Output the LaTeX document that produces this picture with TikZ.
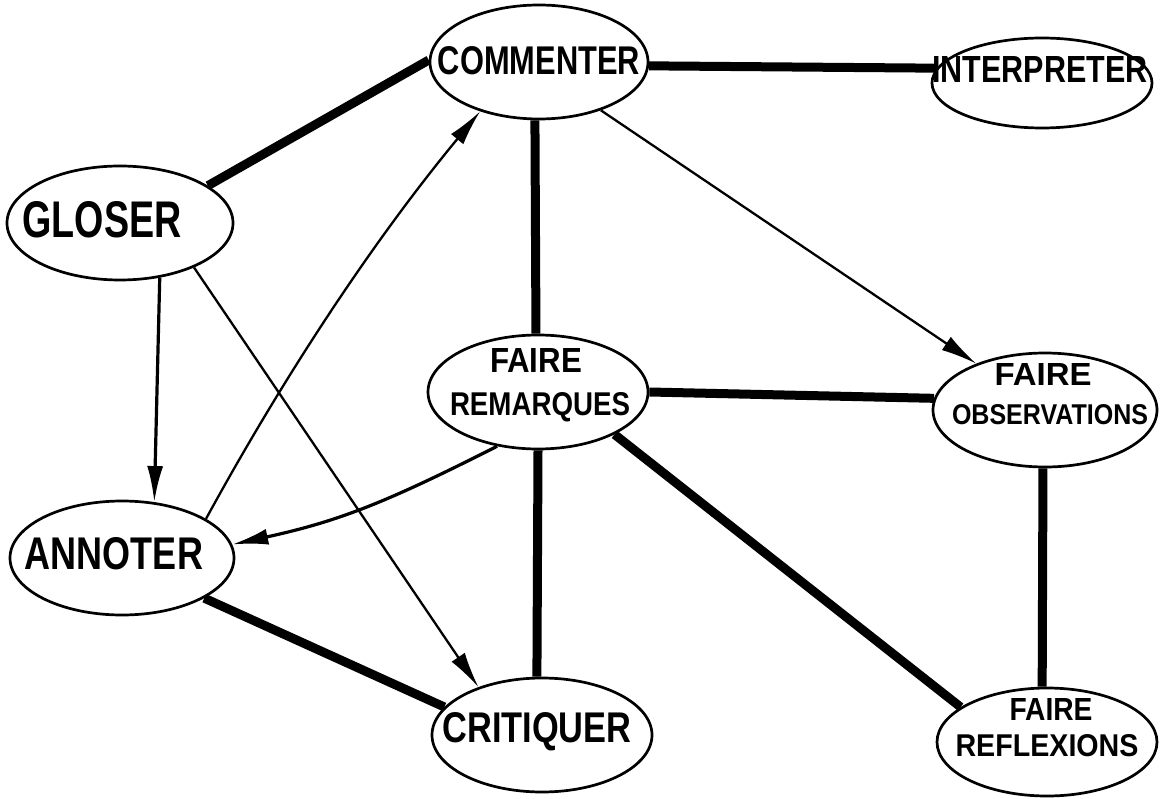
\documentclass[tikz,border=0pt]{standalone}
\usepackage{fontspec}
\setmainfont{Liberation Sans}
\usetikzlibrary{arrows.meta,shapes.geometric}
\newcommand{\lbl}[3]{\resizebox{#1pt}{#2pt}{\bfseries #3}}
\begin{document}
\begin{tikzpicture}[x=1pt,y=-1pt,
  oval/.style={draw, ellipse, line width=2.7pt, inner sep=0pt, fill=white},
  txt/.style={inner sep=0pt, anchor=center},
  heavy/.style={line width=9pt},
  tip/.style={-{Latex[length=36pt,width=16pt]}},
  thinarrow/.style={line width=2.3pt, tip},
  medarrow/.style={line width=3.2pt, tip}
]
\useasboundingbox (0,0) rectangle (1161,799);

% ovals
\node[oval, minimum width=218pt, minimum height=114pt] (comm) at (539,62) {};
\node[oval, minimum width=220pt, minimum height=90pt] (interp) at (1042,83) {};
\node[oval, minimum width=226pt, minimum height=114pt] (glos) at (120,223) {};
\node[oval, minimum width=220pt, minimum height=114pt] (rem) at (538,392) {};
\node[oval, minimum width=224pt, minimum height=114pt] (obs) at (1045,410) {};
\node[oval, minimum width=224pt, minimum height=114pt] (ann) at (122,558) {};
\node[oval, minimum width=220pt, minimum height=114pt] (crit) at (542,735) {};
\node[oval, minimum width=220pt, minimum height=108pt] (refl) at (1047,742) {};

% labels
\node[txt] (tcomm) at (539,61) {\lbl{202}{28}{COMMENTER}};
\node[txt] (tinterp) at (1040,70) {\lbl{215}{26}{INTERPRETER}};
\node[txt] (tglos) at (102,220) {\lbl{159}{36}{GLOSER}};
\node[txt] (trem1) at (536,360) {\lbl{92}{24}{FAIRE}};
\node[txt] (trem2) at (540,407) {\lbl{180}{23}{REMARQUES}};
\node[txt] (tobs1) at (1043,374) {\lbl{97}{22}{FAIRE}};
\node[txt] (tobs2) at (1050,415) {\lbl{196}{20}{OBSERVATIONS}};
\node[txt] (tann) at (114,554) {\lbl{178}{32}{ANNOTER}};
\node[txt] (tcrit) at (537,732) {\lbl{189}{30}{CRITIQUER}};
\node[txt] (trefl1) at (1051,709) {\lbl{83}{22}{FAIRE}};
\node[txt] (trefl2) at (1047,746) {\lbl{183}{22}{REFLEXIONS}};

% heavy links
\draw[heavy] (glos.23) -- (comm.179);
\draw[heavy] (comm.-2) -- (interp.172);
\draw[heavy] (comm.-94) -- (rem.92);
\draw[heavy] (rem.0) -- (obs.174);
\draw[heavy] (rem.-90) -- (crit.95);
\draw[heavy] (rem.-29) -- (refl.158);
\draw[heavy] (obs.-92) -- (refl.95);
\draw[heavy] (ann.-26) -- (crit.164);

% arrows
\draw[thinarrow] (comm.-38) -- (obs.146);
\draw[medarrow] (glos.-54) -- (ann.60);
\draw[thinarrow] (glos.-31) -- (crit.143);
\draw[thinarrow] (ann.25) .. controls (284,376) and (373,241) .. (comm.-140);
\draw[medarrow] (rem.-127) .. controls (387,502) and (340,521) .. (ann.7);
\end{tikzpicture}
\end{document}
